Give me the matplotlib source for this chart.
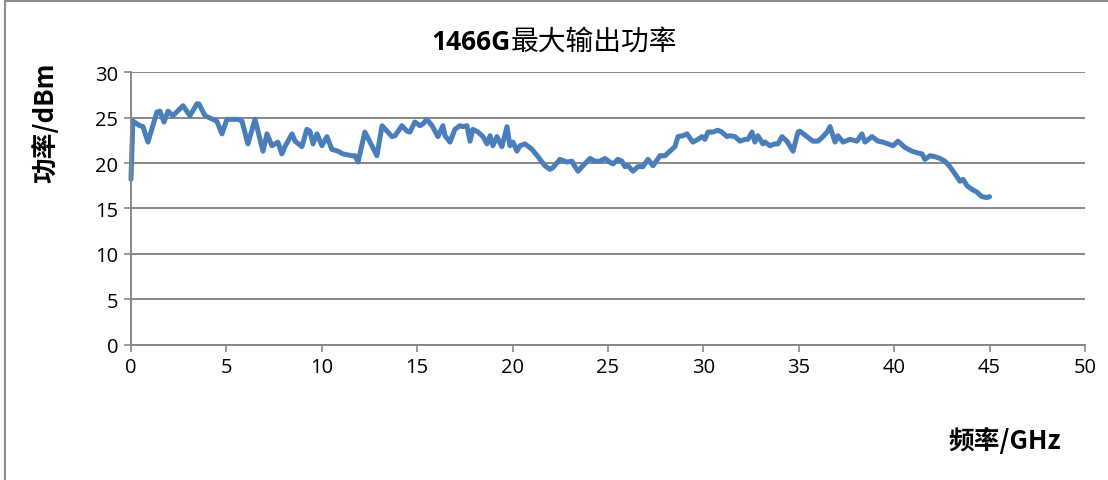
import matplotlib
matplotlib.use("Agg")
import matplotlib.pyplot as plt
from matplotlib.lines import Line2D

plt.rcParams['font.family'] = ['Noto Sans CJK SC', 'DejaVu Sans']

# Frequency (GHz) and measured max output power (dBm)
freq_ghz = [
    0.0, 0.1, 0.47, 0.63, 0.89, 1.36, 1.52, 1.73, 1.94, 2.2, 2.73, 3.09, 3.46, 3.56,
    3.88, 4.3, 4.5, 4.77, 5.03, 5.61, 5.82, 6.13, 6.5, 6.92, 7.13, 7.39, 7.7, 7.91,
    8.07, 8.23, 8.44, 8.6, 8.96, 9.22, 9.38, 9.54, 9.75, 10.01, 10.27, 10.53, 10.85,
    11.11, 11.58, 11.74, 11.9, 12.26, 12.53, 12.89, 13.16, 13.42, 13.68, 13.84, 14.2,
    14.47, 14.62, 14.88, 15.15, 15.3, 15.51, 15.78, 16.09, 16.35, 16.46, 16.72, 16.98,
    17.24, 17.4, 17.61, 17.77, 17.92, 18.19, 18.45, 18.66, 18.82, 18.97, 19.18, 19.44,
    19.71, 19.86, 20.02, 20.23, 20.39, 20.65, 21.02, 21.33, 21.7, 21.96, 22.12, 22.48,
    22.85, 23.11, 23.27, 23.43, 23.69, 24.06, 24.32, 24.58, 24.84, 25.1, 25.26, 25.52,
    25.73, 25.89, 26.05, 26.31, 26.57, 26.83, 27.1, 27.36, 27.73, 27.99, 28.25, 28.51,
    28.67, 28.93, 29.14, 29.45, 29.72, 29.93, 30.08, 30.24, 30.5, 30.76, 30.97, 31.24,
    31.39, 31.66, 31.92, 32.18, 32.34, 32.55, 32.7, 32.86, 33.12, 33.23, 33.49, 33.75,
    33.91, 34.12, 34.38, 34.7, 34.96, 35.06, 35.43, 35.74, 36.01, 36.27, 36.48, 36.64,
    36.9, 37.05, 37.32, 37.68, 38.05, 38.31, 38.47, 38.84, 39.15, 39.41, 39.68, 39.94,
    40.2, 40.57, 40.93, 41.25, 41.46, 41.61, 41.88, 42.14, 42.4, 42.66, 42.92, 43.19,
    43.45, 43.61, 43.82, 44.08, 44.34, 44.6, 44.86, 45.0,
]
power_dbm = [
    18.2, 24.6, 24.1, 24.0, 22.3, 25.6, 25.7, 24.5, 25.7, 25.2, 26.3, 25.2, 26.5, 26.5,
    25.2, 24.8, 24.6, 23.2, 24.8, 24.8, 24.6, 22.1, 24.8, 21.3, 23.2, 21.9, 22.3, 21.0,
    21.8, 22.4, 23.2, 22.4, 21.8, 23.7, 23.5, 22.1, 23.2, 21.9, 22.9, 21.5, 21.3,
    21.0, 20.8, 20.8, 20.1, 23.4, 22.3, 20.8, 24.1, 23.5, 22.9, 23.0, 24.1,
    23.5, 23.4, 24.5, 24.1, 24.3, 24.8, 24.1, 22.9, 24.1, 23.0, 22.3, 23.7,
    24.1, 24.0, 24.1, 22.4, 23.7, 23.4, 22.9, 22.1, 23.0, 21.9, 22.9, 21.8,
    24.0, 21.9, 22.3, 21.3, 21.9, 22.1, 21.5, 20.7, 19.7, 19.3, 19.5, 20.4,
    20.1, 20.2, 19.6, 19.1, 19.7, 20.5, 20.2, 20.2, 20.5, 20.1, 19.9, 20.4,
    20.2, 19.6, 19.7, 19.1, 19.6, 19.6, 20.4, 19.7, 20.8, 20.8, 21.3, 21.8,
    22.9, 23.0, 23.2, 22.3, 22.6, 22.9, 22.6, 23.4, 23.4, 23.6, 23.4, 22.9,
    23.0, 22.9, 22.4, 22.6, 22.6, 23.4, 22.3, 23.0, 22.1, 22.3, 21.9, 22.1,
    22.1, 22.9, 22.4, 21.3, 23.4, 23.5, 22.9, 22.4, 22.4, 22.9, 23.4, 24.0,
    22.3, 23.0, 22.3, 22.6, 22.4, 23.2, 22.3, 22.9, 22.4, 22.3, 22.1, 21.9,
    22.4, 21.7, 21.3, 21.1, 21.0, 20.4, 20.8, 20.7, 20.5, 20.2, 19.6, 18.8,
    18.0, 18.2, 17.5, 17.1, 16.8, 16.3, 16.2, 16.3,
]

x_ticks = [0, 5, 10, 15, 20, 25, 30, 35, 40, 45, 50]
y_ticks = [0, 5, 10, 15, 20, 25, 30]

fig = plt.figure(figsize=(11.08, 4.81), dpi=100)
ax = fig.add_axes([0.1182, 0.2807, 0.8610, 0.5675])

grid_color = '#878787'
ax.set_xlim(0, 50)
ax.set_ylim(0, 30)
ax.set_xticks(x_ticks)
ax.set_yticks(y_ticks)
ax.yaxis.grid(True, color=grid_color, linewidth=1.4)
ax.set_axisbelow(True)
for side in ('top', 'right'):
    ax.spines[side].set_visible(False)
for side in ('left', 'bottom'):
    ax.spines[side].set_color(grid_color)
    ax.spines[side].set_linewidth(1.4)
ax.tick_params(axis='both', colors=grid_color, length=5, width=1.2,
               labelcolor='black', labelsize=14.5, pad=4)
for lbl in ax.get_xticklabels() + ax.get_yticklabels():
    lbl.set_family(['Open Sans', 'DejaVu Sans'])

ax.plot(freq_ghz, power_dbm, color='#4a7ebb', linewidth=3.6,
        solid_joinstyle='round', solid_capstyle='round', clip_on=False)

# Title: bold model number followed by the Chinese caption
fig.text(0.4605, 0.912, '1466G', ha='right', va='center',
         fontsize=19, fontweight='bold', family=['Open Sans', 'DejaVu Sans'])
fig.text(0.4605, 0.912, '最大输出功率', ha='left', va='center',
         fontsize=20, fontweight='normal')
fig.text(0.041, 0.745, '功率/dBm', ha='center', va='center', rotation=90,
         fontsize=18.5, fontweight='bold')
fig.text(0.907, 0.083, '频率/GHz', ha='center', va='center',
         fontsize=18.5, fontweight='bold')

# Outer chart frame (top and left edges)
fig.add_artist(Line2D([0.0045, 1.0], [0.9958, 0.9958], transform=fig.transFigure,
                      color='#8c8c8c', linewidth=1.5))
fig.add_artist(Line2D([0.0045, 0.0045], [0.0, 0.9958], transform=fig.transFigure,
                      color='#8c8c8c', linewidth=1.5))

fig.savefig('out.png', dpi=100, facecolor='white')
